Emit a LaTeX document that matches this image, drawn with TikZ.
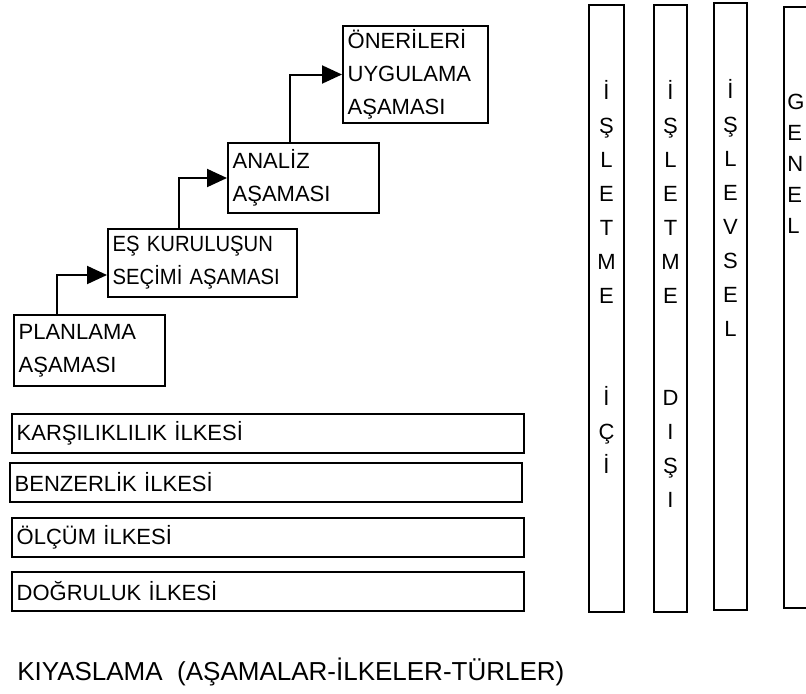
\documentclass[tikz,border=0pt]{standalone}
\usepackage{fontspec}
\setmainfont{Liberation Sans}
\newfontfamily\narrowface{Liberation Sans}[FakeStretch=0.92]
\usetikzlibrary{arrows.meta,calc}

\begin{document}
\begin{tikzpicture}[x=0.75pt,y=-0.75pt,
  every node/.style={font=\fontsize{16.5}{24.75}\selectfont, text=black},
  frame/.style={draw=black, line width=1.5pt},
  stagebox/.style={frame, anchor=north west, align=left, inner xsep=3.5pt, inner ysep=0pt},
  rulebox/.style={frame, anchor=north west, align=left, inner xsep=3.5pt, inner ysep=0pt,
                  minimum width=384pt, minimum height=29pt, text width=377pt},
  colbar/.style={frame, anchor=north west, inner sep=0pt},
  letter/.style={anchor=base, inner sep=0pt},
  flow/.style={draw=black, line width=1.5pt, -{Triangle[length=15pt,width=13.5pt]}}
]
\useasboundingbox[fill=white] (0,0) rectangle (806,693);

% stages, climbing to the upper right
\node[stagebox, minimum width=113.25pt, minimum height=53.25pt, text width=106.25pt]
  (plan) at (13,314) {PLANLAMA\\AŞAMASI};
\node[stagebox, minimum width=141.75pt, minimum height=51pt, text width=134.75pt,
      font={\fontsize{16.5}{24.75}\narrowface}]
  (es) at (107,228) {EŞ KURULUŞUN\\SEÇİMİ AŞAMASI};
\node[stagebox, minimum width=113.25pt, minimum height=52.5pt, text width=106.25pt]
  (analiz) at (227,142) {ANALİZ\\AŞAMASI};
\node[stagebox, minimum width=108.75pt, minimum height=72.75pt, text width=101.75pt]
  (oneri) at (342,25) {ÖNERİLERİ\\UYGULAMA\\AŞAMASI};

% step connectors
\draw[flow] ($(plan.north west)+(44,0)$) |- ($(es.west)+(0,12)$);
\draw[flow] ($(es.north west)+(72,0)$) |- (analiz.west);
\draw[flow] ($(analiz.north west)+(63,0)$) |- (oneri.west);

% principles
\node[rulebox] (karsi) at (11,413) {KARŞILIKLILIK İLKESİ};
\node[rulebox] (benzer) at (9,462) {BENZERLİK İLKESİ};
\node[rulebox] (olcum) at (11,517) {ÖLÇÜM İLKESİ};
\node[rulebox] (dogru) at (11,571) {DOĞRULUK İLKESİ};

% types, as tall columns
\node[colbar, minimum width=26.25pt, minimum height=455.25pt] (ici) at (588,4) {};
\node[colbar, minimum width=24.75pt, minimum height=455.25pt] (disi) at (653,4) {};
\node[colbar, minimum width=24.75pt, minimum height=455.25pt] (islev) at (713,2) {};
\node[colbar, minimum width=30pt, minimum height=450.75pt] (genel) at (783,6) {};

% column words, one letter per line
\foreach \ch [count=\k from 0] in {İ,Ş,L,E,T,M,E}
  \node[letter] (ici-a\k) at ($(ici.north)+(0,95+34*\k)$) {\ch};
\foreach \ch [count=\k from 9] in {İ,Ç,İ}
  \node[letter] (ici-b\k) at ($(ici.north)+(0,95+34*\k)$) {\ch};
\foreach \ch [count=\k from 0] in {İ,Ş,L,E,T,M,E}
  \node[letter] (disi-a\k) at ($(disi.north)+(0,95+34*\k)$) {\ch};
\foreach \ch [count=\k from 9] in {D,I,Ş,I}
  \node[letter] (disi-b\k) at ($(disi.north)+(0,95+34*\k)$) {\ch};
\foreach \ch [count=\k from 0] in {İ,Ş,L,E,V,S,E,L}
  \node[letter] (islev-\k) at ($(islev.north)+(0,96+34*\k)$) {\ch};
\foreach \ch [count=\k from 0] in {G,E,N,E,L}
  \node[letter, anchor=base west] (genel-\k) at ($(genel.north west)+(4,103+31.2*\k)$) {\ch};

% caption
\node[anchor=base west, inner sep=0pt, font=\fontsize{19.5}{23}\selectfont]
  (title) at (17,680) {KIYASLAMA\ \ (AŞAMALAR-İLKELER-TÜRLER)};
\end{tikzpicture}
\end{document}
